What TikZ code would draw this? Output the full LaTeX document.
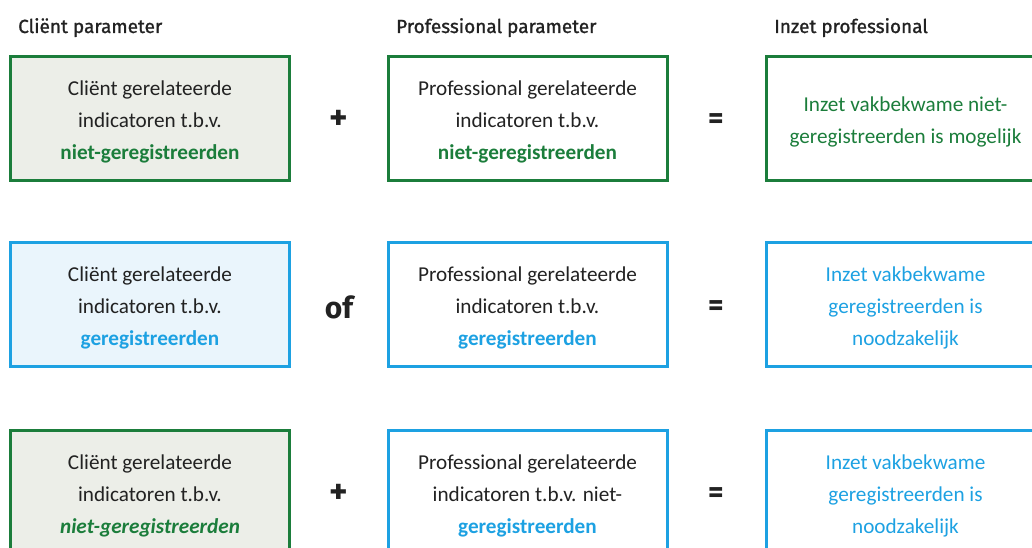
\documentclass[tikz,border=0pt]{standalone}
\usepackage{fontspec}
\setmainfont{Carlito}
\newfontfamily\hdrfont{Fira Sans}[FakeBold=1.2]
\newfontfamily\opfont{Fira Sans}
\definecolor{dgreen}{HTML}{1B7D3B}
\definecolor{lblue}{HTML}{1DA1E2}
\definecolor{gfill}{HTML}{ECEEE8}
\definecolor{bfill}{HTML}{EAF5FC}
\definecolor{txt}{HTML}{222222}
\begin{document}
\begin{tikzpicture}[x=1pt,y=-1pt,
  box/.style={draw, line width=3pt, minimum width=279pt, minimum height=124pt, inner sep=0pt},
  gbox/.style={box, draw=dgreen},
  bbox/.style={box, draw=lblue},
  btxt/.style={align=center, text=txt, inner sep=0pt, font=\fontsize{21.2}{32}\selectfont},
  hdr/.style={anchor=base west, inner sep=0pt, font=\hdrfont\fontsize{19}{20}\selectfont, text=txt},
  op/.style={font=\opfont\bfseries\fontsize{30}{32}\selectfont, text=txt},
  bigop/.style={font=\opfont\bfseries\fontsize{35}{36}\selectfont, text=txt}]
\useasboundingbox (0,0) rectangle (1032,548);
\clip (0,0) rectangle (1032,548);
\node[hdr] (h1) at (18,33) {Cliënt parameter};
\node[hdr] (h2) at (396,33) {Professional parameter};
\node[hdr] (h3) at (774,33) {Inzet professional};
% row 1
\node[gbox, fill=gfill] (a1) at (150,118.5) {};
\node[gbox] (b1) at (527.5,118.5) {};
\node[gbox] (c1) at (905.5,118.5) {};
\node[btxt] (a1t) at ([yshift=-3pt]a1.center) {Cliënt gerelateerde\\indicatoren t.b.v.\\\textcolor{dgreen}{\textbf{niet-geregistreerden}}};
\node[btxt] (b1t) at ([yshift=-3pt]b1.center) {Professional gerelateerde\\indicatoren t.b.v.\\\textcolor{dgreen}{\textbf{niet-geregistreerden}}};
\node[btxt, text=dgreen] (c1t) at ([yshift=-3pt]c1.center) {Inzet vakbekwame niet-\\geregistreerden is mogelijk};
\node[bigop] (p1) at (339,120) {+};
\node[op] (e1) at (716,121) {=};
% row 2
\node[bbox, fill=bfill] (a2) at (150,304.5) {};
\node[bbox] (b2) at (527.5,304.5) {};
\node[bbox] (c2) at (905.5,304.5) {};
\node[btxt] (a2t) at ([yshift=-3pt]a2.center) {Cliënt gerelateerde\\indicatoren t.b.v.\\\textcolor{lblue}{\textbf{geregistreerden}}};
\node[btxt] (b2t) at ([yshift=-3pt]b2.center) {Professional gerelateerde\\indicatoren t.b.v.\\\textcolor{lblue}{\textbf{geregistreerden}}};
\node[btxt, text=lblue] (c2t) at ([yshift=-3pt]c2.center) {Inzet vakbekwame\\geregistreerden is\\noodzakelijk};
\node[op] (o2) at (339,307) {of};
\node[op] (e2) at (716,308) {=};
% row 3
\node[gbox, fill=gfill] (a3) at (150,492.5) {};
\node[bbox] (b3) at (527.5,492.5) {};
\node[bbox] (c3) at (905.5,492.5) {};
\node[btxt] (a3t) at ([yshift=-3pt]a3.center) {Cliënt gerelateerde\\indicatoren t.b.v.\\\textcolor{dgreen}{\textbf{\textit{niet-geregistreerden}}}};
\node[btxt] (b3t) at ([yshift=-3pt]b3.center) {Professional gerelateerde\\indicatoren t.b.v. niet-\\\textcolor{lblue}{\textbf{geregistreerden}}};
\node[btxt, text=lblue] (c3t) at ([yshift=-3pt]c3.center) {Inzet vakbekwame\\geregistreerden is\\noodzakelijk};
\node[bigop] (p3) at (339,494) {+};
\node[op] (e3) at (716,495) {=};
\end{tikzpicture}
\end{document}
